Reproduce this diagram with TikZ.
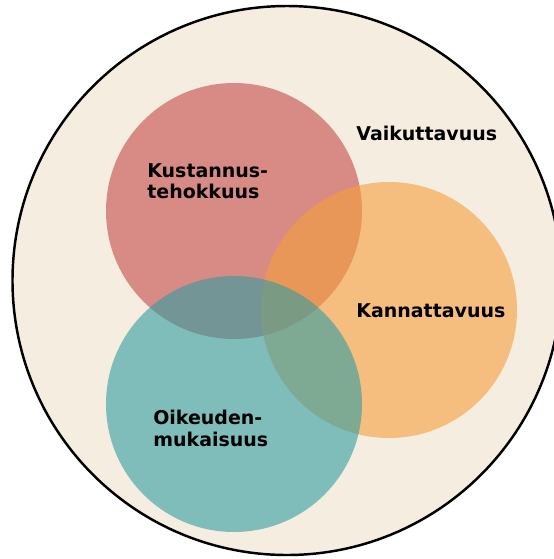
\documentclass[tikz,border=0pt]{standalone}
\usepackage{fontspec}
\setmainfont{DejaVu Sans}
\definecolor{bgcream}{RGB}{245,237,224}
\definecolor{venred}{RGB}{198,72,71}
\definecolor{venorange}{RGB}{245,160,61}
\definecolor{venteal}{RGB}{48,157,161}
\begin{document}
\begin{tikzpicture}[x=0.02cm, y=-0.02cm,
  set/.style={fill opacity=0.6, draw=none},
  lbl/.style={anchor=north west, inner sep=0pt, align=left,
    font=\fontsize{10.8}{12.2}\selectfont\bfseries}]
 \useasboundingbox (0,0) rectangle (554,559);
 \clip (0,0) rectangle (554,559);

 % outer set
 \filldraw[fill=bgcream, line width=1.4pt] (287,280.5) circle (274.5);

 % three sets
 \fill[set, venred] (234,211) circle (128);
 \fill[set, venorange] (389,310) circle (128);
 \fill[set, venteal] (234,404) circle (128);

 \node[lbl] (vaik) at (356,126) {Vaikuttavuus};
 \node[lbl] (kust) at (147,163) {Kustannus-\\tehokkuus};
 \node[lbl] (kann) at (356,303) {Kannattavuus};
 \node[lbl] (oike) at (153,410) {Oikeuden-\\mukaisuus};
\end{tikzpicture}
\end{document}
